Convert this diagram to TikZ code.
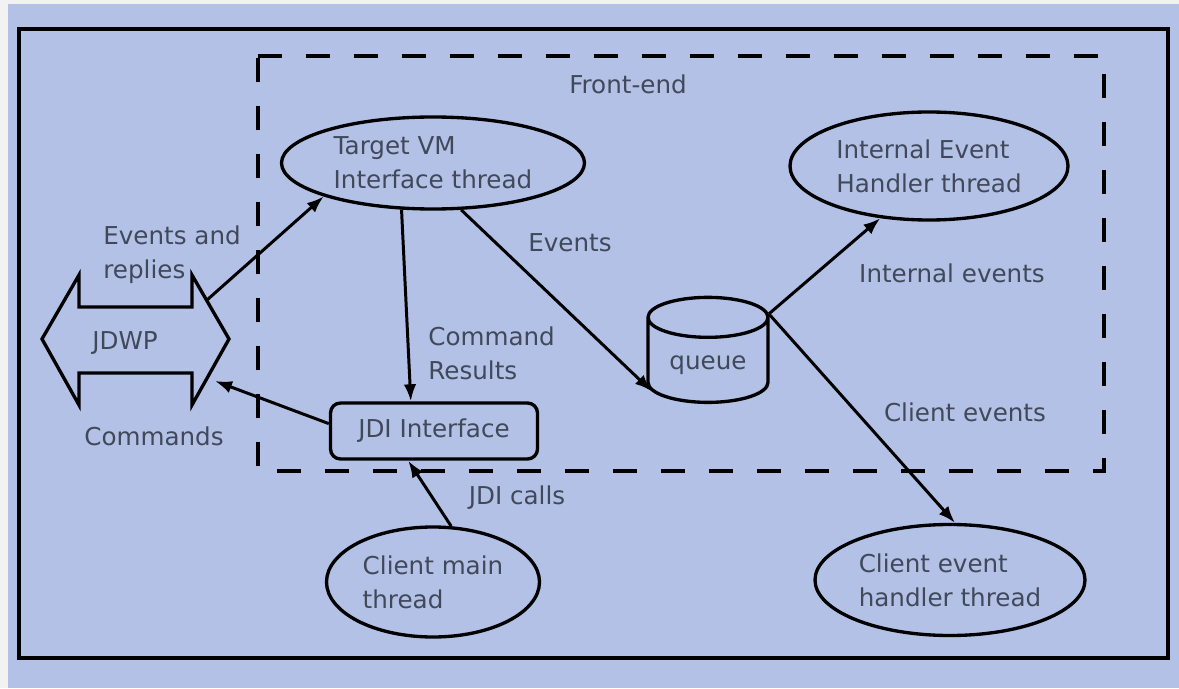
\documentclass[tikz,border=0pt]{standalone}
\usepackage{fontspec}
\setmainfont{DejaVu Sans}
\usetikzlibrary{shapes, arrows.meta, positioning, shapes.geometric}
\usepackage{xcolor}
\definecolor{panelblue}{RGB}{178,193,229}
\definecolor{inkgray}{RGB}{64,72,90}
\tikzset{
  thread/.style={draw, ellipse, line width=1.9pt, inner sep=0pt, align=left, text=inkgray},
  flow/.style={-{Latex[length=3.4mm,width=2.5mm]}, line width=1.7pt},
  lbl/.style={text=inkgray, align=left, inner sep=0pt},
}

\begin{document}
\begin{tikzpicture}[font=\fontsize{14}{19.5}\selectfont]
            % --- Background and frames ---
            \fill[panelblue] (0,0) rectangle (23.58,13.76);
            \fill[black!5] (0,0) rectangle (0.16,13.76);
            \fill[black!5] (0,13.68) rectangle (23.58,13.76);
            \useasboundingbox (0,0) rectangle (23.58,13.76);
            \draw[line width=2.4pt] (0.38,0.60) rectangle (23.36,13.18);
            \draw[line width=2.3pt, dash pattern=on 4.8mm off 4.8mm] (5.16,12.64) -- (22.08,12.64) -- (22.08,4.34) -- (5.16,4.34) -- cycle;
            \node[lbl] (frontend) at (12.56,12.08) {Front-end};

            % --- Threads and queue ---
            \node[thread, minimum width=6.06cm, minimum height=1.84cm] (tvm) at (8.66,10.50) {Target VM\\Interface thread};
            \node[thread, minimum width=5.56cm, minimum height=2.16cm] (ieh) at (18.58,10.44) {Internal Event\\Handler thread};
            \node[draw, cylinder, shape border rotate=90, aspect=0.45, line width=1.9pt, minimum width=2.4cm, minimum height=2.1cm, text=inkgray] (queue) at (14.16,6.46) {queue};
            \node[draw, rounded corners=2mm, line width=1.9pt, minimum width=4.14cm, minimum height=1.12cm, text=inkgray] (jdi) at (8.68,5.14) {JDI Interface};
            \node[thread, minimum width=4.26cm, minimum height=2.2cm] (cmt) at (8.66,2.12) {Client main\\thread};
            \node[thread, minimum width=5.4cm, minimum height=2.22cm] (ceh) at (19.0,2.16) {Client event\\handler thread};

            % --- JDWP double arrow ---
            \draw[line width=1.9pt, line join=miter] (0.84,6.98) -- (1.58,8.26) -- (1.58,7.62) -- (3.84,7.62) -- (3.84,8.26) -- (4.58,6.98) -- (3.84,5.66) -- (3.84,6.30) -- (1.58,6.30) -- (1.58,5.66) -- cycle;
            \node[lbl] (jdwp) at (2.50,6.90) {JDWP};
            \coordinate (jdwpout) at (4.14,7.76);
            \coordinate (jdwpin) at (4.30,6.14);

            % --- Connectors ---
            \draw[flow] (jdwpout) -- (tvm.197);
            \draw[flow] (jdi.176) -- (jdwpin);
            \draw[flow] (tvm.236) -- (jdi.128);
            \draw[flow] (tvm.301) -- (queue.205);
            \draw[flow] (queue.40) -- (ieh.227);
            \draw[flow] (queue.40) -- (ceh.85);
            \draw[flow] (cmt.72) -- (jdi.229);

            % --- Labels ---
            \node[lbl, anchor=west] (evrep) at (2.06,8.66) {Events and\\replies};
            \node[lbl] (cmds) at (3.08,5.04) {Commands};
            \node[lbl, anchor=west] (cmdres) at (8.56,6.70) {Command\\Results};
            \node[lbl] (events) at (11.40,8.90) {Events};
            \node[lbl] (intev) at (19.04,8.30) {Internal events};
            \node[lbl] (cliev) at (19.30,5.52) {Client events};
            \node[lbl] (jdicalls) at (10.34,3.80) {JDI calls};
        \end{tikzpicture}
\end{document}
